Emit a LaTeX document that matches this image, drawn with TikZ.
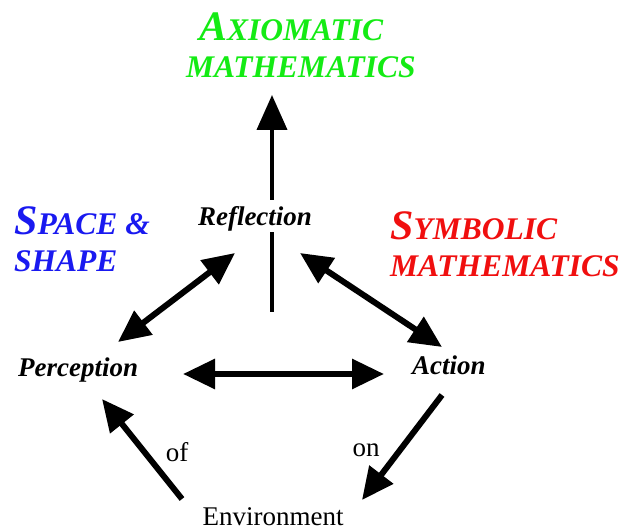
\documentclass[tikz,border=0pt]{standalone}
\usepackage{fontspec}
\setmainfont{Liberation Serif}
\usetikzlibrary{arrows.meta}
\definecolor{axgreen}{RGB}{20,235,20}
\definecolor{spblue}{RGB}{25,25,240}
\definecolor{syred}{RGB}{240,15,15}
\newcommand\myBigCap[1]{{\fontsize{42pt}{42pt}\selectfont #1}}
\begin{document}
\begin{tikzpicture}[x=1pt,y=1pt,
  lbl/.style={font=\fontsize{27pt}{27pt}\selectfont\bfseries\itshape, inner sep=0pt},
  plainlbl/.style={font=\fontsize{27pt}{27pt}\selectfont, inner sep=0pt},
  titlebox/.style={font=\fontsize{31.5pt}{37pt}\selectfont\bfseries\itshape, inner sep=0pt, align=left, anchor=base west},
  tipA/.tip={Triangle[length=32pt,width=29pt]},
  conn/.style={line width=6pt},
  vconn/.style={line width=4pt, -{Triangle[length=35pt,width=30pt]}}
]
\useasboundingbox (0,0) rectangle (631,532);

% titles (anchor = baseline of last line)
\node[titlebox, text=axgreen] (axiom) at (186,454) {\hspace*{13pt}\myBigCap{A}XIOMATIC\\MATHEMATICS};
\node[titlebox, text=spblue] (space) at (14,260) {\myBigCap{S}PACE \&\\SHAPE};
\node[titlebox, text=syred] (symb) at (390,255) {\myBigCap{S}YMBOLIC\\MATHEMATICS};

% vertical arrow behind Reflection
\coordinate (vbot) at (272,220);
\coordinate (vtop) at (272,437);
\draw[vconn] (vbot) -- (vtop);

% labels
\node[lbl, fill=white, inner xsep=3pt, text height=26pt, text depth=6pt, anchor=base] (refl) at (255,306) {Reflection};
\node[lbl, anchor=base west] (perc) at (18,155) {Perception};
\node[lbl, anchor=base west] (act) at (412,157) {Action};
\node[plainlbl, text depth=0pt, anchor=base] (env) at (273,6) {Environment};
\node[plainlbl, anchor=base] (of) at (177,70) {of};
\node[plainlbl, anchor=base] (on) at (366,75) {on};

% arrow end points near the nodes
\coordinate (reflL) at (235,279);
\coordinate (reflR) at (300,279);
\coordinate (percU) at (118,190);
\coordinate (percR) at (183,158);
\coordinate (percD) at (102,133);
\coordinate (actU) at (442,185);
\coordinate (actL) at (384,158);
\coordinate (actD) at (442,137);
\coordinate (envL) at (182,33);
\coordinate (envR) at (362,32);

\draw[conn, tipA-tipA] (percU) -- (reflL);
\draw[conn, tipA-tipA] (actU) -- (reflR);
\draw[conn, tipA-tipA] (percR) -- (actL);
\draw[conn, -tipA] (envL) -- (percD);
\draw[conn, -tipA] (actD) -- (envR);
\end{tikzpicture}
\end{document}
